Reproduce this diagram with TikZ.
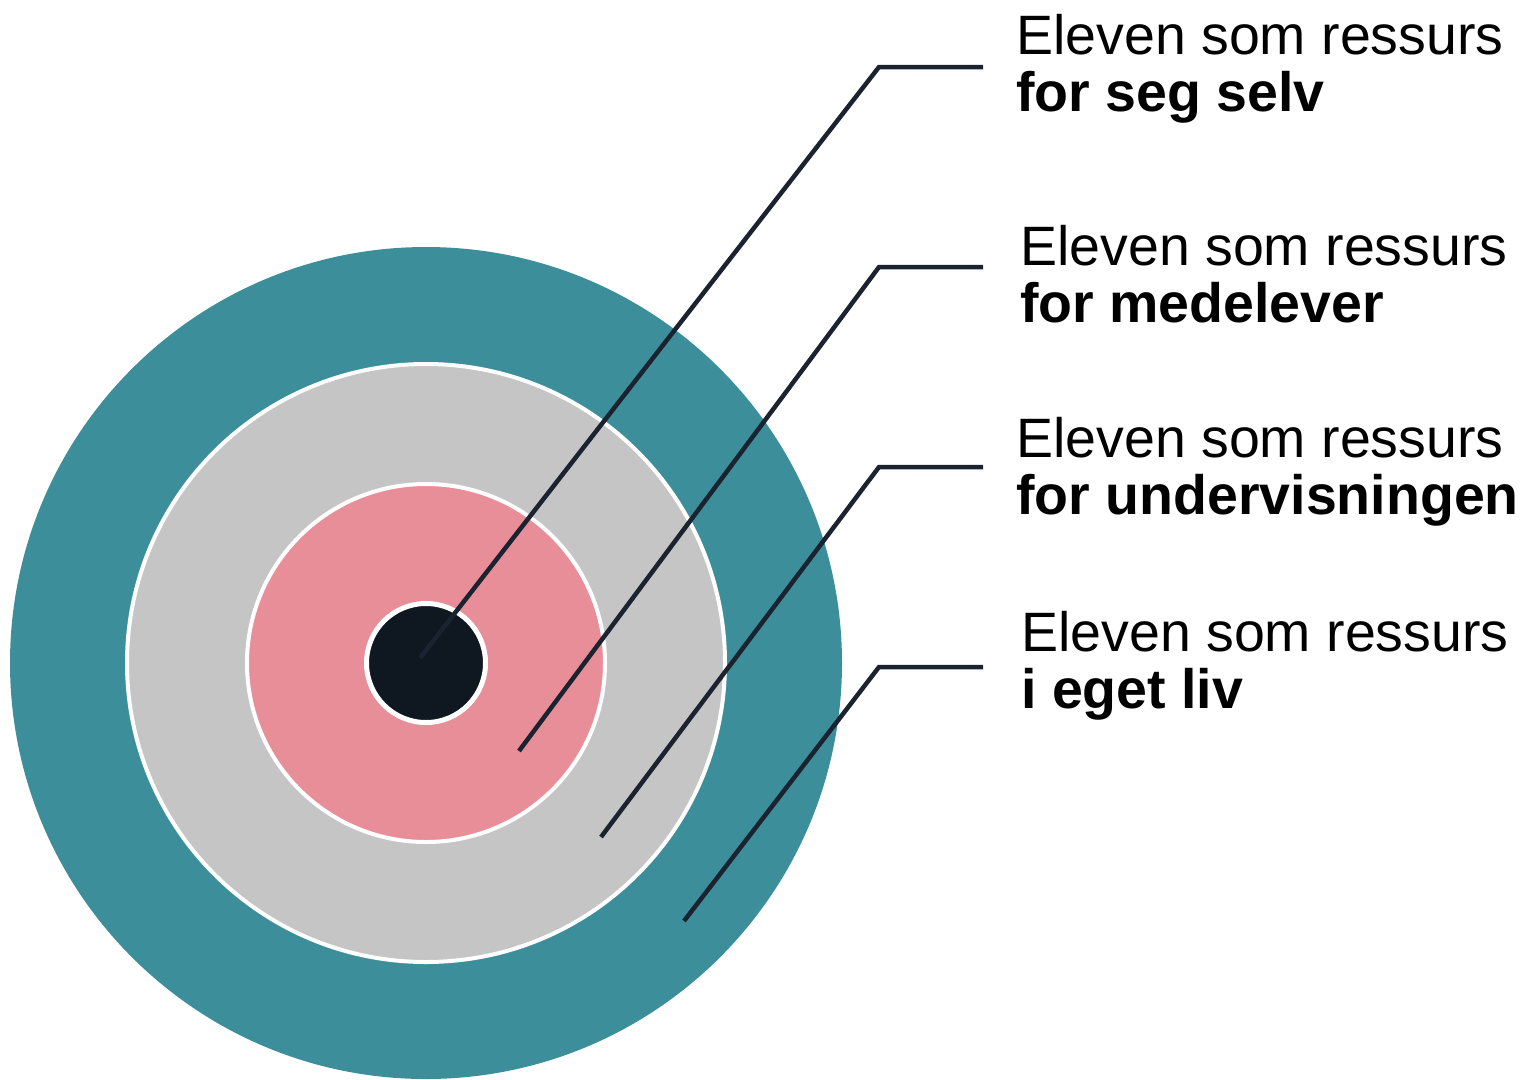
\documentclass[tikz,border=0pt]{standalone}
\usepackage{fontspec}
\setmainfont{Liberation Sans}
\usepackage{xcolor}
\usepackage{tikz}
\usetikzlibrary{positioning}

\definecolor{ringteal}{HTML}{3C8F9A}
\definecolor{ringgray}{HTML}{C4C5C4}
\definecolor{ringpink}{HTML}{E88E98}
\definecolor{corecol}{HTML}{0F1720}
\definecolor{leadcol}{HTML}{1C2330}

\begin{document}
\begin{tikzpicture}[x=1pt,y=-1pt,
    ring/.style={circle,inner sep=0pt,draw=white,line width=4pt,minimum size=#1},
    leader/.style={draw=leadcol,line width=4.5pt},
    lbl/.style={anchor=base west,align=left,inner sep=0pt,
      font=\fontsize{55.5}{57}\selectfont}]
  \useasboundingbox (0,0) rectangle (1528,1079);
  \coordinate (c) at (426,663);

  % the rings, outside in
  \node[circle,inner sep=0pt,fill=ringteal,minimum size=832pt] (liv) at (c) {};
  \node[ring=598pt,fill=ringgray] (undervisning) at (c) {};
  \node[ring=358pt,fill=ringpink] (medelever) at (c) {};
  \node[ring=119pt,line width=5pt,fill=corecol] (selv) at (c) {};

  % leader lines
  \foreach \i/\px/\py/\ky in {1/420/658/67, 2/519/751/267, 3/601/837/467, 4/684/921/667} {
    \coordinate (p\i) at (\px,\py);
    \coordinate (k\i) at (879,\ky);
    \coordinate (e\i) at (983,\ky);
    \draw[leader] (p\i) -- (k\i) -- (e\i);
  }

  % base west = baseline of the bold line
  \node[lbl] (lbl1) at (1016,111) {Eleven som ressurs\\\textbf{for seg selv}};
  \node[lbl] (lbl2) at (1020,322) {Eleven som ressurs\\\textbf{for medelever}};
  \node[lbl] (lbl3) at (1016,514) {Eleven som ressurs\\\textbf{for undervisningen}};
  \node[lbl] (lbl4) at (1021,708) {Eleven som ressurs\\\textbf{i eget liv}};
\end{tikzpicture}
\end{document}
